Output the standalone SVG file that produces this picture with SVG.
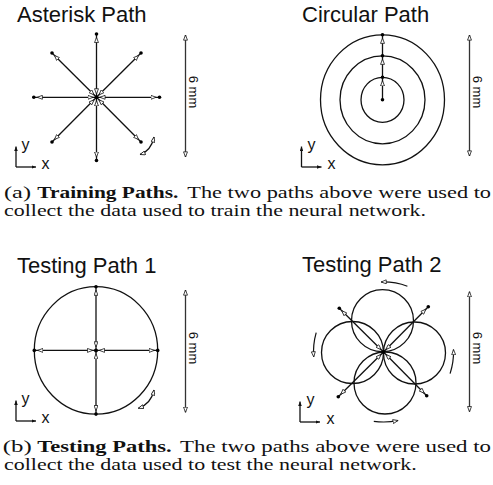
<svg xmlns="http://www.w3.org/2000/svg" width="493" height="485" viewBox="0 0 493 485">
<style>
.t{font-family:"Liberation Sans",Arial,sans-serif;font-size:22px;fill:#111}
.ax{font-family:"Liberation Sans",Arial,sans-serif;font-size:16px;fill:#111}
.mm{font-family:"Liberation Sans",Arial,sans-serif;font-size:13px;fill:#111;text-anchor:middle}
.cap{font-family:"Liberation Serif","Times New Roman",serif;font-size:17.5px;fill:#111}
.b{font-weight:bold}
.ln{fill:none;stroke:#111;stroke-width:1.3}
.sp{fill:none;stroke:#111;stroke-width:1.3;marker-start:url(#oe);marker-end:url(#oe)}
.sb{fill:none;stroke:#333;stroke-width:1.3;marker-start:url(#ot);marker-end:url(#ot)}
.cv{fill:none;stroke:#111;stroke-width:1.2}
.axl{fill:none;stroke:#111;stroke-width:1.3;marker-end:url(#fa)}
.dot{fill:#000}
</style>
<defs>
<marker id="oe" viewBox="0 0 10 8" refX="15" refY="4" markerWidth="6" markerHeight="4.8" markerUnits="userSpaceOnUse" orient="auto-start-reverse">
<path d="M0.7,0.7 L9.3,4 L0.7,7.3 z" fill="#fff" stroke="#111" stroke-width="1.3"/>
</marker>
<marker id="ot" viewBox="0 0 10 8" refX="9.3" refY="4" markerWidth="6" markerHeight="4.8" markerUnits="userSpaceOnUse" orient="auto-start-reverse">
<path d="M0.7,0.7 L9.3,4 L0.7,7.3 z" fill="#fff" stroke="#111" stroke-width="1.3"/>
</marker>
<marker id="fa" viewBox="0 0 10 8" refX="10" refY="4" markerWidth="4.5" markerHeight="3.6" markerUnits="userSpaceOnUse" orient="auto">
<path d="M0,0 L10,4 L0,8 z" fill="#111"/>
</marker>
</defs>

<g id="asterisk-path">
<text class="t" x="17" y="21.5">Asterisk Path</text>
<g id="asterisk-spokes">
<path class="sp" d="M96.5,97.3 L159.5,97.3"/>
<path class="sp" d="M96.5,97.3 L141,142"/>
<path class="sp" d="M96.5,97.3 L96.5,160.5"/>
<path class="sp" d="M96.5,97.3 L52,142"/>
<path class="sp" d="M96.5,97.3 L33.8,97.3"/>
<path class="sp" d="M96.5,97.3 L52,53"/>
<path class="sp" d="M96.5,97.3 L96.5,34"/>
<path class="sp" d="M96.5,97.3 L141,53"/>
</g>
<g id="asterisk-dots" class="dot">
<circle cx="96.5" cy="97.3" r="2"/>
<circle cx="159.5" cy="97.3" r="1.8"/>
<circle cx="141" cy="142" r="1.8"/>
<circle cx="96.5" cy="160.5" r="1.8"/>
<circle cx="52" cy="142" r="1.8"/>
<circle cx="33.8" cy="97.3" r="1.8"/>
<circle cx="52" cy="53" r="1.8"/>
<circle cx="96.5" cy="34" r="1.8"/>
<circle cx="141" cy="53" r="1.8"/>
</g>
<path class="cv" d="M140,154.5 Q151,151 154,137" marker-start="url(#ot)" marker-end="url(#ot)"/>
<path class="sb" d="M185.5,35 L185.5,157"/>
<text class="mm" transform="translate(188.5,92) rotate(90)">6 mm</text>
<path class="axl" d="M16,167 L16,146.5"/>
<path class="axl" d="M16,167 L36,167"/>
<text class="ax" x="21.5" y="149.5">y</text>
<text class="ax" x="41.5" y="168.5">x</text>
</g>

<g id="circular-path">
<text class="t" x="302" y="21.5">Circular Path</text>
<ellipse class="ln" cx="382.5" cy="99.8" rx="62" ry="65"/>
<ellipse class="ln" cx="382.5" cy="99.8" rx="42.5" ry="44"/>
<ellipse class="ln" cx="382.5" cy="99.8" rx="21.5" ry="22.5"/>
<g id="circular-segments">
<path class="ln" d="M382.5,99.8 L382.5,77.3" marker-end="url(#oe)"/>
<path class="ln" d="M382.5,77.3 L382.5,55.8" marker-end="url(#oe)"/>
<path class="ln" d="M382.5,55.8 L382.5,34.8" marker-end="url(#oe)"/>
</g>
<g class="dot">
<circle cx="382.5" cy="99.8" r="1.8"/>
<circle cx="382.5" cy="77.3" r="1.8"/>
<circle cx="382.5" cy="55.8" r="1.8"/>
<circle cx="382.5" cy="34.8" r="1.8"/>
</g>
<path class="sb" d="M469.5,35 L469.5,156"/>
<text class="mm" transform="translate(472.5,92) rotate(90)">6 mm</text>
<path class="axl" d="M301.5,167 L301.5,146.5"/>
<path class="axl" d="M301.5,167 L321.5,167"/>
<text class="ax" x="307.5" y="149.5">y</text>
<text class="ax" x="327.5" y="168.5">x</text>
</g>

<g id="caption-a">
<text class="cap" x="4" y="197.5" textLength="27" lengthAdjust="spacingAndGlyphs">(a)</text>
<text class="cap b" x="37.3" y="197.5" textLength="141" lengthAdjust="spacingAndGlyphs">Training Paths.</text>
<text class="cap" x="187.3" y="197.5" textLength="303.7" lengthAdjust="spacingAndGlyphs">The two paths above were used to</text>
<text class="cap" x="4" y="216" textLength="422" lengthAdjust="spacingAndGlyphs">collect the data used to train the neural network.</text>
</g>

<g id="testing-path-1">
<text class="t" x="17" y="272.5">Testing Path 1</text>
<ellipse class="ln" cx="96" cy="350.4" rx="61.7" ry="63.7"/>
<g id="tp1-spokes">
<path class="sp" d="M96,350.4 L96,286.7"/>
<path class="sp" d="M96,350.4 L96,414.1"/>
<path class="sp" d="M96,350.4 L34.3,350.4"/>
<path class="sp" d="M96,350.4 L157.7,350.4"/>
</g>
<g class="dot">
<circle cx="96" cy="350.4" r="2"/>
<circle cx="96" cy="286.7" r="1.8"/>
<circle cx="96" cy="414.1" r="1.8"/>
<circle cx="34.3" cy="350.4" r="1.8"/>
<circle cx="157.7" cy="350.4" r="1.8"/>
</g>
<path class="cv" d="M138.3,408.3 Q151,404 154,390" marker-start="url(#ot)" marker-end="url(#ot)"/>
<path class="sb" d="M185.5,290 L185.5,412.3"/>
<text class="mm" transform="translate(188.5,348) rotate(90)">6 mm</text>
<path class="axl" d="M16,421 L16,400.5"/>
<path class="axl" d="M16,421 L36,421"/>
<text class="ax" x="21.5" y="403.5">y</text>
<text class="ax" x="41.5" y="422.5">x</text>
</g>

<g id="testing-path-2">
<text class="t" x="302" y="272">Testing Path 2</text>
<circle class="ln" cx="382.5" cy="320.7" r="31"/>
<circle class="ln" cx="385" cy="383" r="31"/>
<circle class="ln" cx="352.5" cy="352.5" r="31"/>
<circle class="ln" cx="414.5" cy="353" r="31"/>
<g id="tp2-spokes">
<path class="sp" d="M383.5,352 L339.3,308.3"/>
<path class="sp" d="M383.5,352 L428.3,306.7"/>
<path class="sp" d="M383.5,352 L338.3,396.7"/>
<path class="sp" d="M383.5,352 L426.7,395.7"/>
</g>
<g class="dot">
<circle cx="383.5" cy="352" r="2"/>
<circle cx="339.3" cy="308.3" r="1.8"/>
<circle cx="428.3" cy="306.7" r="1.8"/>
<circle cx="338.3" cy="396.7" r="1.8"/>
<circle cx="426.7" cy="395.7" r="1.8"/>
</g>
<g id="tp2-rotation">
<path class="cv" d="M407.4,286.2 A70,70 0 0 0 381.1,282" marker-end="url(#ot)"/>
<path class="cv" d="M316.2,332.7 A70,70 0 0 0 313.7,356.9" marker-end="url(#ot)"/>
<path class="cv" d="M373.8,421.3 A70,70 0 0 0 398.1,420.5" marker-end="url(#ot)"/>
<path class="cv" d="M450.1,373.6 A70,70 0 0 0 453.5,349.6" marker-end="url(#ot)"/>
</g>
<path class="sb" d="M469.5,291.7 L469.5,411.7"/>
<text class="mm" transform="translate(472.5,348) rotate(90)">6 mm</text>
<path class="axl" d="M300,422 L300,401.5"/>
<path class="axl" d="M300,422 L320,422"/>
<text class="ax" x="306.5" y="404.5">y</text>
<text class="ax" x="326.5" y="423.5">x</text>
</g>

<g id="caption-b">
<text class="cap" x="2.7" y="451.5" textLength="29" lengthAdjust="spacingAndGlyphs">(b)</text>
<text class="cap b" x="37.3" y="451.5" textLength="134.4" lengthAdjust="spacingAndGlyphs">Testing Paths.</text>
<text class="cap" x="180" y="451.5" textLength="311" lengthAdjust="spacingAndGlyphs">The two paths above were used to</text>
<text class="cap" x="4" y="470" textLength="412.7" lengthAdjust="spacingAndGlyphs">collect the data used to test the neural network.</text>
</g>
</svg>
